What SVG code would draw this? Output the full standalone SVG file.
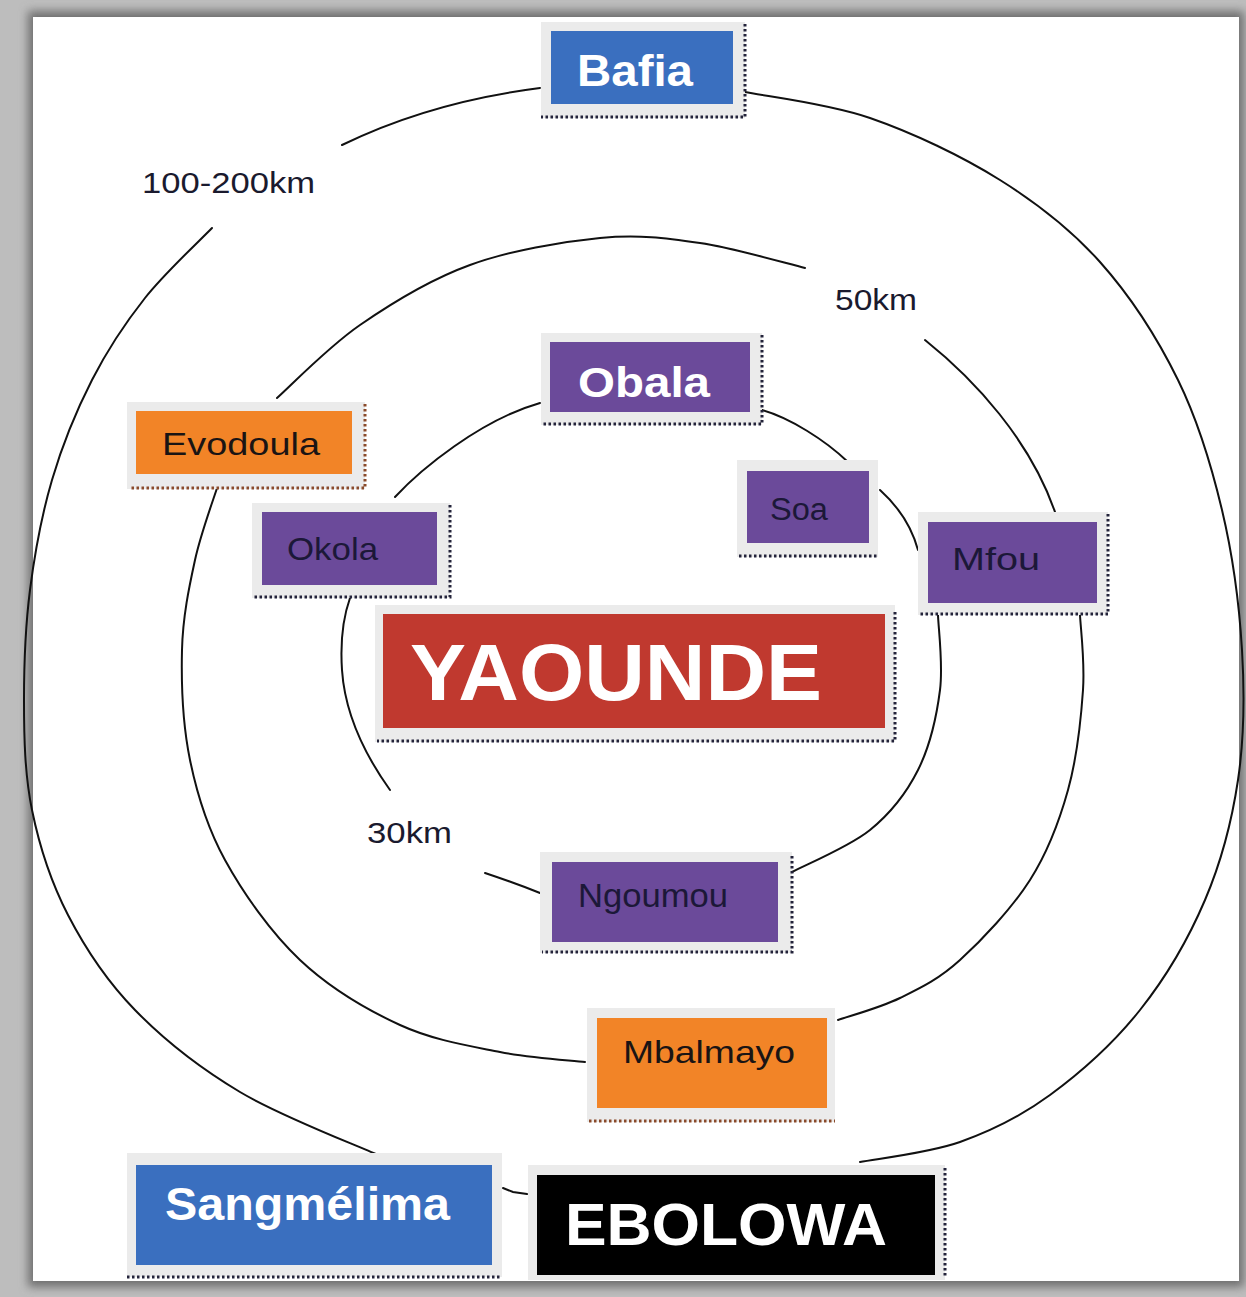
<svg xmlns="http://www.w3.org/2000/svg" width="1246" height="1297" viewBox="0 0 1246 1297">
<defs>
<filter id="soft" x="-5%" y="-5%" width="110%" height="110%"><feGaussianBlur stdDeviation="5"/></filter>
<style>
.frame{fill:#ebebeb}
.dots{fill:none;stroke:#23233a;stroke-width:3;stroke-dasharray:2.5 2.5}
.dotsb{fill:none;stroke:#8a4a2a;stroke-width:3;stroke-dasharray:2.5 2.5}
.line{fill:none;stroke:#111;stroke-width:2;stroke-linecap:round}
.t{font-family:"Liberation Sans",Arial,sans-serif}
.w{fill:#ffffff;font-weight:bold}
.d{fill:#1c1838}
.k{fill:#1a1414}
.lbl{font-family:"Liberation Sans",Arial,sans-serif;fill:#1a1a2e;font-size:29px}
.blue{fill:#3a6fbf}
.purple{fill:#6b4a9a}
.orange{fill:#f28427}
.red{fill:#c0392f}
.black{fill:#000}
</style>
</defs>
<rect x="0" y="0" width="1246" height="1297" fill="#bdbdbd"/>
<rect x="28" y="11" width="1216" height="1276" fill="#707070" filter="url(#soft)"/>
<rect x="33" y="17" width="1206" height="1264" fill="#ffffff"/>

<g id="connectors">
<path class="line" d="M745,92 C765.8,96.3 827.5,103.3 870,118 C912.5,132.7 961.7,156 1000,180 C1038.3,204 1070.3,228.7 1100,262 C1129.7,295.3 1157.7,338.7 1178,380 C1198.3,421.3 1211.3,465 1222,510 C1232.7,555 1239.3,605 1242,650 C1244.7,695 1244.2,738.3 1238,780 C1231.8,821.7 1221.3,861.7 1205,900 C1188.7,938.3 1165.8,977.5 1140,1010 C1114.2,1042.5 1080,1073 1050,1095 C1020,1117 991.7,1130.8 960,1142 C928.3,1153.2 876.7,1158.7 860,1162"/>
<path class="line" d="M212,228 C200.8,239.7 165,272.7 145,298 C125,323.3 107.5,349.7 92,380 C76.5,410.3 62.3,445 52,480 C41.7,515 34.7,553.3 30,590 C25.3,626.7 24,663.3 24,700 C24,736.7 24.7,774.2 32,810 C39.3,845.8 50.8,881.7 68,915 C85.2,948.3 106.3,980.5 135,1010 C163.7,1039.5 199.5,1067.8 240,1092 C280.5,1116.2 355,1144.5 378,1155"/>
<path class="line" d="M342,145 Q430,102 540,88"/>
<path class="line" d="M503,1188 L513,1192 L527,1194"/>
<path class="line" d="M277,398 C290.8,385.8 327.8,347.2 360,325 C392.2,302.8 430,279.5 470,265 C510,250.5 561.7,241.7 600,238 C638.3,234.3 665.8,238 700,243 C734.2,248 787.5,263.8 805,268"/>
<path class="line" d="M925,340 C975,380 1030,440 1055,512"/>
<path class="line" d="M1080,615 C1080.5,627.5 1085,660.8 1083,690 C1081,719.2 1076.8,758.3 1068,790 C1059.2,821.7 1048,851.7 1030,880 C1012,908.3 981.7,940.3 960,960 C938.3,979.7 920.3,988 900,998 C879.7,1008 848.3,1016.3 838,1020"/>
<path class="line" d="M218,485 C214.2,497.5 201,532.5 195,560 C189,587.5 182.8,616.7 182,650 C181.2,683.3 182.8,725 190,760 C197.2,795 206.7,826.7 225,860 C243.3,893.3 270.8,932.5 300,960 C329.2,987.5 366.7,1009.7 400,1025 C433.3,1040.3 469.2,1045.8 500,1052 C530.8,1058.2 570.8,1060.3 585,1062"/>
<path class="line" d="M395,497 C420,470 480,420 540,403"/>
<path class="line" d="M762,410 C790,418 825,440 848,462"/>
<path class="line" d="M880,490 C900,508 912,528 918,550"/>
<path class="line" d="M938,615 C938.3,627.5 943.3,664.2 940,690 C936.7,715.8 929.7,746.7 918,770 C906.3,793.3 891,813 870,830 C849,847 805,865 792,872"/>
<path class="line" d="M540,893 C520,885 500,878 485,873"/>
<path class="line" d="M390,790 C365,755 345,715 342,670 C340,640 344,615 350,598"/>
</g>

<g id="label-100-200km"><text class="lbl" x="142" y="193" textLength="173" lengthAdjust="spacingAndGlyphs">100-200km</text></g>
<g id="label-50km"><text class="lbl" x="835" y="310" textLength="82" lengthAdjust="spacingAndGlyphs">50km</text></g>
<g id="label-30km"><text class="lbl" x="367" y="843" textLength="85" lengthAdjust="spacingAndGlyphs">30km</text></g>

<g id="node-bafia">
<rect class="frame" x="541" y="22" width="204" height="96"/>
<rect class="blue" x="551" y="31" width="182" height="73"/>
<path class="dots" d="M745,24 V117 H541"/>
<text class="t w" x="577" y="86" font-size="44" textLength="116" lengthAdjust="spacingAndGlyphs">Bafia</text>
</g>

<g id="node-obala">
<rect class="frame" x="541" y="333" width="221" height="92"/>
<rect class="purple" x="550" y="342" width="200" height="70"/>
<path class="dots" d="M762,335 V424 H541"/>
<text class="t w" x="578" y="397" font-size="42" textLength="132" lengthAdjust="spacingAndGlyphs">Obala</text>
</g>

<g id="node-evodoula">
<rect class="frame" x="127" y="402" width="238" height="87"/>
<rect class="orange" x="136" y="411" width="216" height="63"/>
<path class="dotsb" d="M365,404 V488 H129"/>
<text class="t k" x="162" y="455" font-size="32" textLength="158" lengthAdjust="spacingAndGlyphs">Evodoula</text>
</g>

<g id="node-okola">
<rect class="frame" x="252" y="503" width="198" height="95"/>
<rect class="purple" x="262" y="512" width="175" height="73"/>
<path class="dots" d="M450,505 V597 H254"/>
<text class="t d" x="287" y="560" font-size="32" textLength="91" lengthAdjust="spacingAndGlyphs">Okola</text>
</g>

<g id="node-soa">
<rect class="frame" x="737" y="460" width="141" height="97"/>
<rect class="purple" x="747" y="471" width="122" height="72"/>
<path class="dots" d="M739,556 H878"/>
<text class="t d" x="770" y="520" font-size="31" textLength="58" lengthAdjust="spacingAndGlyphs">Soa</text>
</g>

<g id="node-mfou">
<rect class="frame" x="918" y="512" width="190" height="103"/>
<rect class="purple" x="928" y="522" width="169" height="81"/>
<path class="dots" d="M1108,514 V614 H920"/>
<text class="t d" x="952" y="570" font-size="32" textLength="88" lengthAdjust="spacingAndGlyphs">Mfou</text>
</g>

<g id="node-yaounde">
<rect class="frame" x="375" y="605" width="520" height="137"/>
<rect class="red" x="383" y="614" width="502" height="114"/>
<path class="dots" d="M895,612 V741 H377"/>
<text class="t w" x="410" y="700" font-size="80" textLength="412" lengthAdjust="spacingAndGlyphs">YAOUNDE</text>
</g>

<g id="node-ngoumou">
<rect class="frame" x="540" y="852" width="252" height="101"/>
<rect class="purple" x="552" y="862" width="226" height="80"/>
<path class="dots" d="M792,856 V952 H542"/>
<text class="t d" x="578" y="907" font-size="33" textLength="150" lengthAdjust="spacingAndGlyphs">Ngoumou</text>
</g>

<g id="node-mbalmayo">
<rect class="frame" x="587" y="1008" width="248" height="114"/>
<rect class="orange" x="597" y="1018" width="230" height="90"/>
<path class="dotsb" d="M589,1121 H835"/>
<text class="t k" x="623" y="1063" font-size="32" textLength="172" lengthAdjust="spacingAndGlyphs">Mbalmayo</text>
</g>

<g id="node-sangmelima">
<rect class="frame" x="127" y="1153" width="375" height="124"/>
<rect class="blue" x="136" y="1165" width="356" height="100"/>
<path class="dots" d="M127,1277 H502"/>
<text class="t w" x="165" y="1220" font-size="46" textLength="285" lengthAdjust="spacingAndGlyphs">Sangmélima</text>
</g>

<g id="node-ebolowa">
<rect class="frame" x="528" y="1165" width="417" height="115"/>
<rect class="black" x="537" y="1175" width="398" height="100"/>
<path class="dots" d="M945,1168 V1278"/>
<text class="t w" x="565" y="1245" font-size="60" textLength="322" lengthAdjust="spacingAndGlyphs">EBOLOWA</text>
</g>
</svg>
